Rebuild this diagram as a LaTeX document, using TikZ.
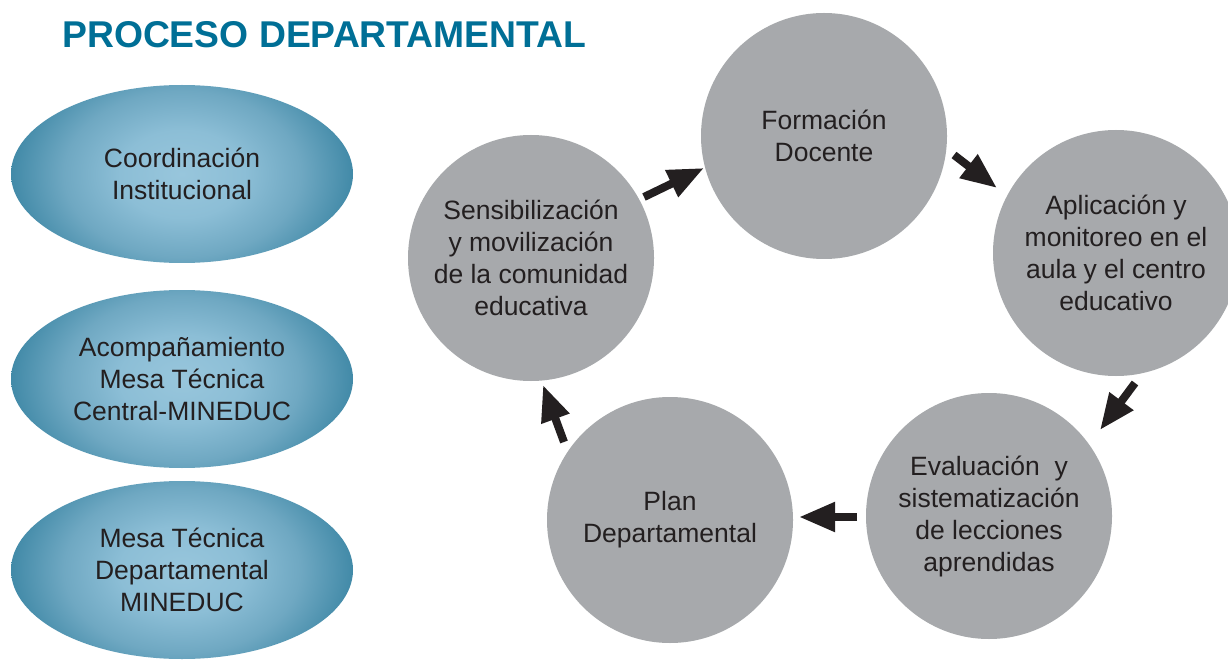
\documentclass[tikz,border=0pt]{standalone}
\usepackage{fontspec}
\setmainfont{Liberation Sans}
\usetikzlibrary{shapes.geometric,arrows.meta}
\definecolor{titleblue}{HTML}{006F96}
\definecolor{cgray}{HTML}{A7A9AC}
\definecolor{txt}{HTML}{231F20}
\definecolor{ellA}{HTML}{98C6DC}
\definecolor{ellB}{HTML}{8CBED6}
\definecolor{ellC}{HTML}{6FA8C2}
\definecolor{ellD}{HTML}{3F88A6}
\pgfdeclareradialshading{ellshade}{\pgfpoint{0bp}{0bp}}{color(0bp)=(ellA); color(9bp)=(ellB); color(17bp)=(ellC); color(25bp)=(ellD); color(50bp)=(ellD)}
\newcommand\bodyfont{\fontsize{26.5pt}{32pt}\selectfont}
\newcommand\titlefont{\fontsize{37.3pt}{40pt}\selectfont\bfseries}
\tikzset{
  oval/.style={ellipse, minimum width=342pt, minimum height=178pt, inner sep=0pt,
    align=center, text=txt, font=\bodyfont,
    path picture={\shade[shading=ellshade] (path picture bounding box.center)
      ellipse [x radius=174pt, y radius=122pt];}},
  stage/.style={circle, fill=cgray, minimum size=246pt, inner sep=0pt,
    align=center, text=txt, font=\bodyfont},
  flow/.style={line width=8pt, draw=txt, fill=txt,
    -{Triangle[length=36pt,width=28pt]}}
}
\begin{document}
\begin{tikzpicture}[x=1pt,y=-1pt]
\useasboundingbox (0,0) rectangle (1228,660);
\fill[white] (0,0) rectangle (1228,660);

\node[anchor=base west, font=\titlefont, text=titleblue, inner sep=0pt] (title) at (62,47.5) {PROCESO DEPARTAMENTAL};

\node[oval] (o1) at (182,174) {Coordinación\\Institucional};
\node[oval] (o2) at (182,379) {Acompañamiento\\Mesa Técnica\\Central-MINEDUC};
\node[oval] (o3) at (182,570) {Mesa Técnica\\Departamental\\MINEDUC};

\node[stage] (F) at (824,136) {Formación\\Docente};
\node[stage] (A) at (1116,253) {Aplicación y\\monitoreo en el\\aula y el centro\\educativo};
\node[stage] (E) at (989,516) {Evaluación~ y\\sistematización\\de lecciones\\aprendidas};
\node[stage] (P) at (670,520) {Plan\\Departamental};
\node[stage] (S) at (531,258) {Sensibilización\\y movilización\\de la comunidad\\educativa};

\coordinate (sf1) at (644,197);
\coordinate (sf2) at (704,168);
\coordinate (fa1) at (954,155);
\coordinate (fa2) at (997,188);
\coordinate (ae1) at (1135,383);
\coordinate (ae2) at (1100,430);
\coordinate (ep1) at (857,517);
\coordinate (ep2) at (799,517);
\coordinate (ps1) at (564,442);
\coordinate (ps2) at (543,385);

\draw[flow] (sf1) -- (sf2);
\draw[flow] (fa1) -- (fa2);
\draw[flow] (ae1) -- (ae2);
\draw[flow] (ep1) -- (ep2);
\draw[flow] (ps1) -- (ps2);
\end{tikzpicture}
\end{document}
